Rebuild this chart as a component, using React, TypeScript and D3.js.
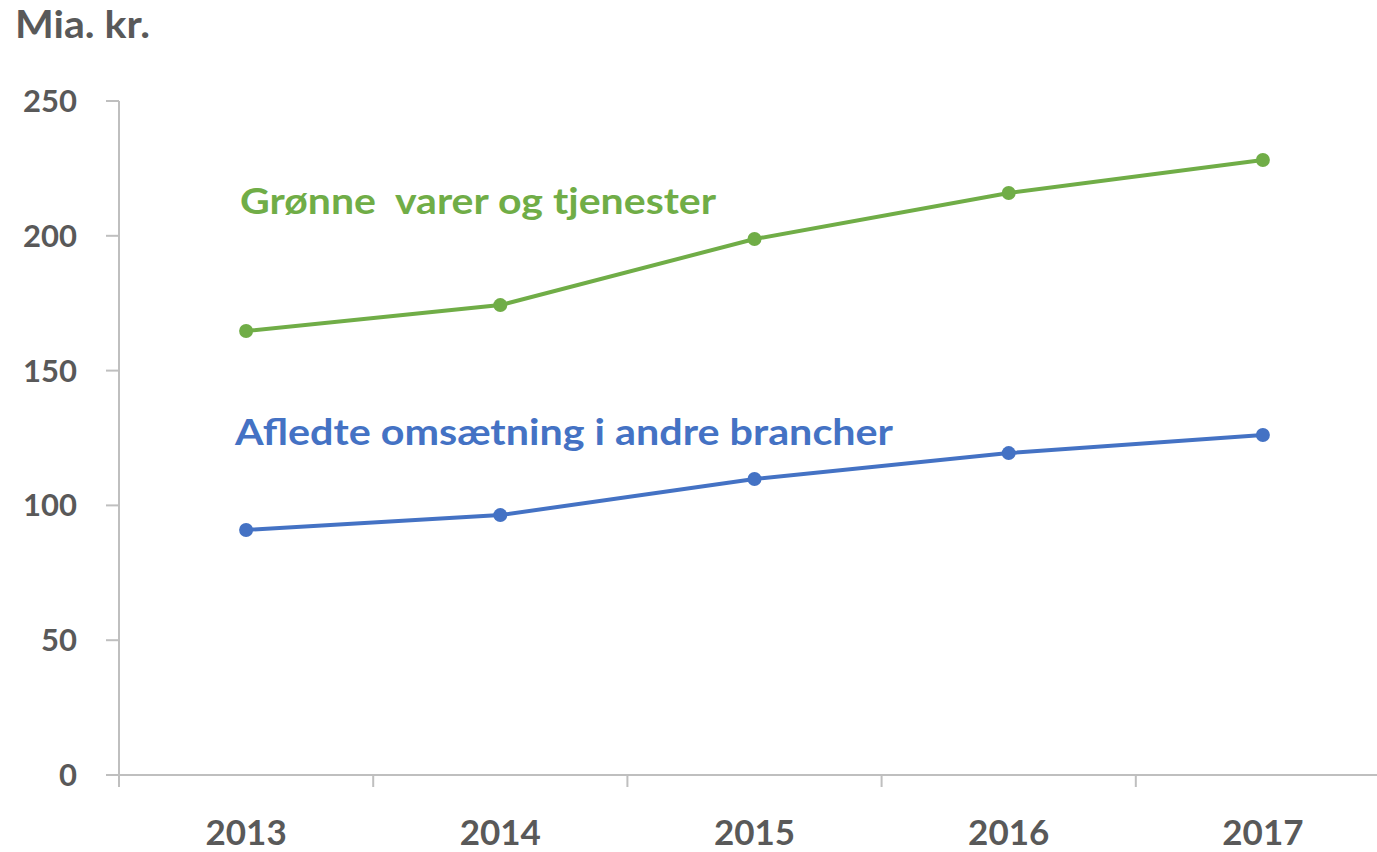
import React, { useEffect, useRef } from 'react';
import * as d3 from 'd3';

const years = ['2013', '2014', '2015', '2016', '2017'];
const greenValues = [164.7, 174.3, 198.8, 215.9, 228.1];
const blueValues = [90.9, 96.4, 109.8, 119.4, 126.1];
const yTicks = [0, 50, 100, 150, 200, 250];
const greenLabel = 'Grønne  varer og tjenester';
const blueLabel = 'Afledte omsætning i andre brancher';
const unitLabel = 'Mia. kr.';

const width = 1377;
const height = 852;
const margin = { left: 119, top: 101, bottom: 77 };
const plotRight = 1390; // last category band runs just past the edge
const font = 'Lato, "Open Sans", sans-serif';
const grey = '#595959';
const axisGrey = '#bfbfbf';

const App = () => {
    const ref = useRef<SVGSVGElement>(null);

    useEffect(() => {
        const svg = d3.select(ref.current);
        svg.selectAll('*').remove();

        const x = d3.scaleBand()
            .domain(years)
            .range([margin.left, plotRight])
            .paddingInner(0)
            .paddingOuter(0);
        const y = d3.scaleLinear()
            .domain([0, 250])
            .range([height - margin.bottom, margin.top]);

        const cx = (d: string) => (x(d) as number) + x.bandwidth() / 2;

        // axes
        const axes = svg.append('g').attr('stroke', axisGrey).attr('stroke-width', 2);
        axes.append('line')
            .attr('x1', margin.left).attr('x2', margin.left)
            .attr('y1', y(250)).attr('y2', y(0) + 12);
        axes.append('line')
            .attr('x1', margin.left - 13).attr('x2', width)
            .attr('y1', y(0)).attr('y2', y(0));
        axes.selectAll('.yt')
            .data(yTicks.slice(1))
            .join('line')
            .attr('x1', margin.left - 13).attr('x2', margin.left)
            .attr('y1', d => y(d)).attr('y2', d => y(d));
        axes.selectAll('.xt')
            .data(years.slice(1))
            .join('line')
            .attr('x1', d => x(d) as number).attr('x2', d => x(d) as number)
            .attr('y1', y(0)).attr('y2', y(0) + 12);

        // tick labels
        svg.append('g')
            .selectAll('text')
            .data(yTicks)
            .join('text')
            .attr('x', 77)
            .attr('y', d => y(d) + 11)
            .attr('text-anchor', 'end')
            .attr('font-family', font)
            .attr('font-weight', 700)
            .attr('font-size', 31)
            .attr('fill', grey)
            .text(d => d);

        svg.append('g')
            .selectAll('text')
            .data(years)
            .join('text')
            .attr('x', d => cx(d))
            .attr('y', 845)
            .attr('text-anchor', 'middle')
            .attr('font-family', font)
            .attr('font-weight', 700)
            .attr('font-size', 35)
            .attr('fill', grey)
            .text(d => d);

        svg.append('text')
            .attr('x', 15)
            .attr('y', 38)
            .attr('font-family', font)
            .attr('font-weight', 700)
            .attr('font-size', 38)
            .attr('fill', grey)
            .attr('textLength', 135)
            .attr('lengthAdjust', 'spacingAndGlyphs')
            .text(unitLabel);

        // series
        const series = [
            { values: greenValues, color: '#70ad47', label: greenLabel, lx: 240, ly: 214, lw: 476 },
            { values: blueValues, color: '#4472c4', label: blueLabel, lx: 235, ly: 445, lw: 658 },
        ];
        const line = d3.line<number>()
            .x((_, i) => cx(years[i]))
            .y(d => y(d));

        series.forEach(s => {
            svg.append('path')
                .attr('d', line(s.values))
                .attr('fill', 'none')
                .attr('stroke', s.color)
                .attr('stroke-width', 4);
            svg.append('g')
                .selectAll('circle')
                .data(s.values)
                .join('circle')
                .attr('cx', (_, i) => cx(years[i]))
                .attr('cy', d => y(d))
                .attr('r', 7)
                .attr('fill', s.color);
            svg.append('text')
                .attr('x', s.lx)
                .attr('y', s.ly)
                .attr('font-family', font)
                .attr('font-weight', 700)
                .attr('font-size', 36)
                .attr('fill', s.color)
                .attr('textLength', s.lw)
                .attr('lengthAdjust', 'spacingAndGlyphs')
                .style('white-space', 'pre')
                .text(s.label);
        });
    }, []);

    return (
        <svg ref={ref} width={width} height={height}
            style={{ position: 'absolute', left: 0, top: 0, background: '#fff' }} />
    );
};

export default App;
